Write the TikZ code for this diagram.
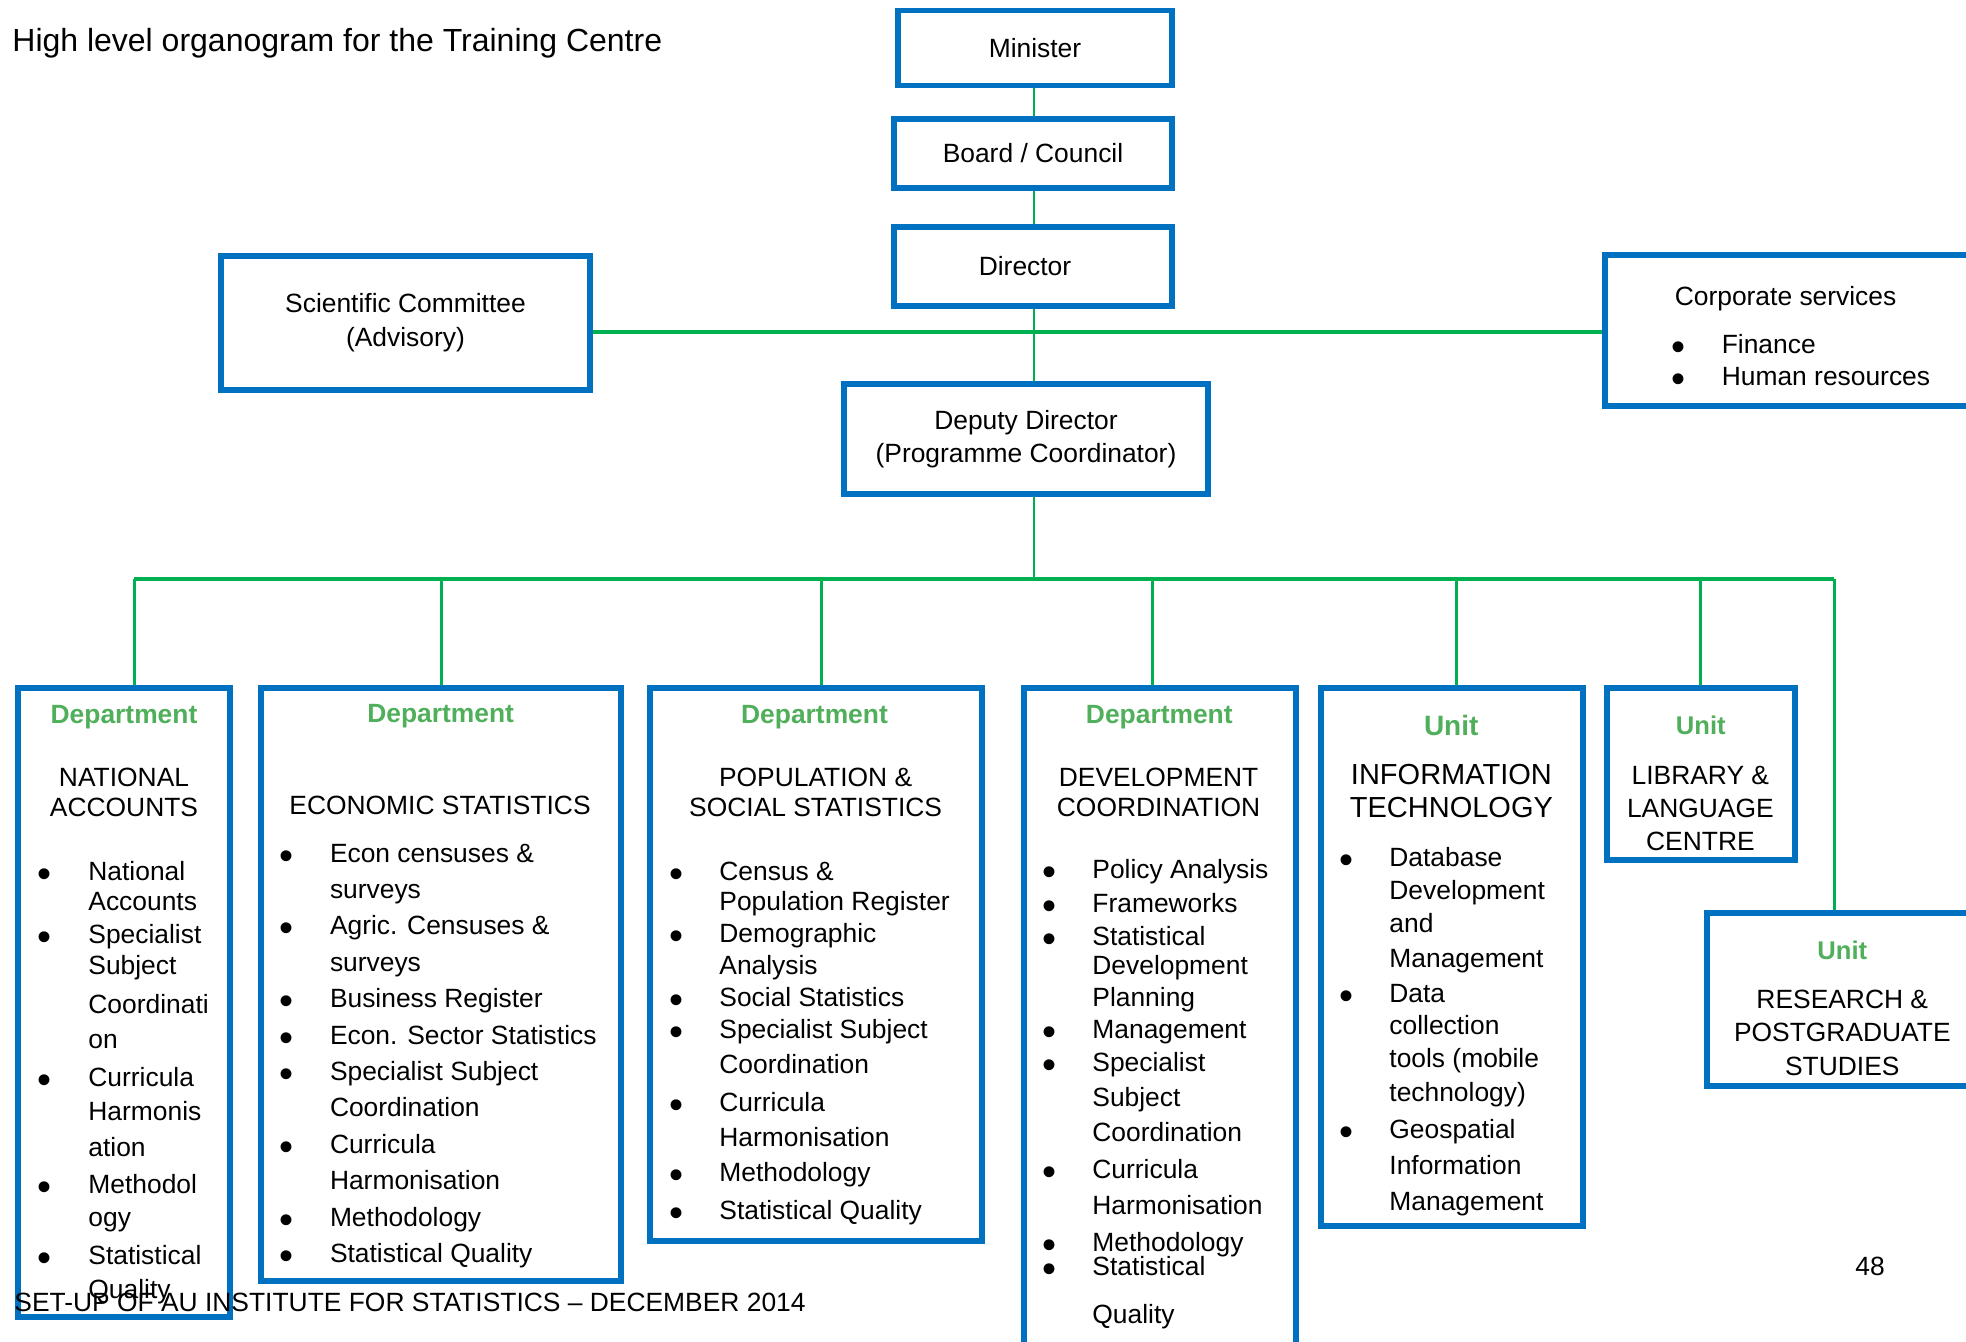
\documentclass[tikz,border=0pt]{standalone}
\usepackage{fontspec}
\setmainfont{Liberation Sans}
\usepackage{xcolor}
\usetikzlibrary{positioning, fit}

\definecolor{orgblue}{RGB}{0,112,192}
\definecolor{orggreen}{RGB}{0,176,80}
\definecolor{headgreen}{RGB}{80,175,90}

% large list bullet
\newcommand{\orgdot}{\hspace*{1.8pt}\makebox[0pt]{%
  \raisebox{-3.5pt}{\fontsize{20}{20}\selectfont\textbullet}}}
% bullet list: #1 = line spacing, #2 = rows
\newcommand{\orglist}[2]{%
  \fontsize{13.2}{#1}\selectfont
  \begin{tabular}[t]{@{}p{23.5pt}@{}l@{}}#2\end{tabular}}
% centred heading: [#1] = size, #2 = line spacing, #3 = lines
\newcommand{\orghead}[3][13.2]{%
  \fontsize{#1}{#2}\selectfont
  \begin{tabular}[t]{@{}c@{}}#3\end{tabular}}

\begin{document}
\begin{tikzpicture}[
  x=0.5pt, y=-0.5pt,
  orgbox/.style={draw=orgblue, line width=2.6pt, inner sep=0pt},
  topbox/.style={orgbox, align=center,
                 font=\fontsize{13.2}{16}\selectfont},
  link/.style={draw=orggreen, line width=1.5pt},
  thinlink/.style={draw=orggreen, line width=1.2pt},
  buslink/.style={draw=orggreen, line width=1.9pt},
  txt/.style={inner sep=0pt, font=\fontsize{13.2}{16}\selectfont},
  kind/.style={inner sep=0pt, anchor=base, text=headgreen,
               font=\bfseries\fontsize{13.2}{16}\selectfont}
]
\useasboundingbox (0,0) rectangle (1966,1342);
\clip (0,0) rectangle (1966,1342);

%% ── Title ───────────────────────────────────────────────────────────
\node[txt, anchor=base west, font=\fontsize{16}{18}\selectfont]
  (title) at (12,52) {High level organogram for the Training Centre};

%% ── Top of the chart ────────────────────────────────────────────────
\node[topbox, minimum width=137pt, minimum height=37.75pt]
  (minister) at (1035,48) {Minister};
\node[topbox, minimum width=139pt, minimum height=34.5pt]
  (board) at (1033,153.5) {Board / Council};
\node[topbox, minimum width=139pt, minimum height=39.5pt]
  (director) at (1033,266.5) {\hspace*{-8pt}Director};
\node[topbox, minimum width=184.5pt, minimum height=67pt,
  font=\fontsize{13.2}{17}\selectfont]
  (sci) at (405.5,323) {Scientific Committee\\(Advisory)};
\node[topbox, minimum width=182pt, minimum height=55pt,
  font=\fontsize{13.2}{16.25}\selectfont]
  (deputy) at (1026,439) {Deputy Director\\(Programme Coordinator)};

\node[orgbox, fit={(1605,255) (1985,406)}] (corp) {};
\node[txt, anchor=base west] (corp-txt) at (1674.4,306) {\orglist{16pt}{%
  \multicolumn{2}{@{}l@{}}{Corporate services}\\[8pt]
  \orgdot & Finance\\
  \orgdot & Human resources}};

%% ── Departments and units ───────────────────────────────────────────
\node[orgbox, fit={(18,688) (230,1317)}]     (natacc) {};
\node[orgbox, fit={(261,688) (621,1281)}]    (econ) {};
\node[orgbox, fit={(650,688) (982,1241)}]    (pop) {};
\node[orgbox, fit={(1024,688) (1296,1370)}]  (dev) {};
\node[orgbox, fit={(1321,688) (1583,1226)}]  (it) {};
\node[orgbox, fit={(1607,688) (1795,860)}]   (lib) {};
\node[orgbox, fit={(1707,913) (1990,1086)}]  (res) {};

% national accounts
\node[kind] (natacc-kind) at (124,723.5) {Department};
\node[txt, anchor=base] (natacc-name) at (124,786)
  {\orghead{15pt}{NATIONAL\\ACCOUNTS}};
\node[txt, anchor=base west] (natacc-list) at (41,880) {\orglist{15pt}{%
  \orgdot & National\\
          & Accounts\\[1.5pt]
  \orgdot & Specialist\\[0.6pt]
          & Subject\\[4.5pt]
          & Coordinati\\[2.7pt]
          & on\\[4pt]
  \orgdot & Curricula\\[1.8pt]
          & Harmonis\\[3pt]
          & ation\\[3.8pt]
  \orgdot & Methodol\\[1.2pt]
          & ogy\\[4.3pt]
  \orgdot & Statistical\\[1.7pt]
          & Quality}};

% economic statistics
\node[kind] (econ-kind) at (440.7,722) {Department};
\node[txt, anchor=base] (econ-name) at (440,814.5)
  {\orghead{15pt}{ECONOMIC STATISTICS}};
\node[txt, anchor=base west] (econ-list) at (282.6,862) {\orglist{18.2pt}{%
  \orgdot & Econ censuses \&\\
          & surveys\\
  \orgdot & Agric. Censuses \&\\
          & surveys\\
  \orgdot & Business Register\\
  \orgdot & Econ. Sector Statistics\\
  \orgdot & Specialist Subject\\
          & Coordination\\
  \orgdot & Curricula\\
          & Harmonisation\\
  \orgdot & Methodology\\
  \orgdot & Statistical Quality}};

% population and social statistics
\node[kind] (pop-kind) at (814.5,723.5) {Department};
\node[txt, anchor=base] (pop-name) at (815.6,786)
  {\orghead{15pt}{POPULATION \&\\SOCIAL STATISTICS}};
\node[txt, anchor=base west] (pop-list) at (672,880) {\orglist{15.5pt}{%
  \orgdot & Census \&\\[-0.5pt]
          & Population Register\\[0.9pt]
  \orgdot & Demographic\\[0.2pt]
          & Analysis\\[0.4pt]
  \orgdot & Social Statistics\\[0.8pt]
  \orgdot & Specialist Subject\\[1.8pt]
          & Coordination\\[3.5pt]
  \orgdot & Curricula\\[1.9pt]
          & Harmonisation\\[2.1pt]
  \orgdot & Methodology\\[3.5pt]
  \orgdot & Statistical Quality}};

% development coordination
\node[kind] (dev-kind) at (1159.3,723.5) {Department};
\node[txt, anchor=base] (dev-name) at (1158.6,786)
  {\orghead{15pt}{DEVELOPMENT\\COORDINATION}};
\node[txt, anchor=base west] (dev-list) at (1045,878.4) {\orglist{16pt}{%
  \orgdot & Policy Analysis\\[1pt]
  \orgdot & Frameworks\\[0.4pt]
  \orgdot & Statistical\\[-1.2pt]
          & Development\\[-0.3pt]
          & Planning\\[0.3pt]
  \orgdot & Management\\[0.3pt]
  \orgdot & Specialist\\[1.4pt]
          & Subject\\[1.8pt]
          & Coordination\\[2.5pt]
  \orgdot & Curricula\\[1.6pt]
          & Harmonisation\\[2.5pt]
  \orgdot & Methodology\\[-3.6pt]
  \orgdot & Statistical\\[7.7pt]
          & Quality}};

% information technology
\node[kind, font=\bfseries\fontsize{14}{16}\selectfont]
  (it-kind) at (1451.2,735) {Unit};
\node[txt, anchor=base] (it-name) at (1451.4,784.4)
  {\orghead[14.5]{16.5pt}{INFORMATION\\TECHNOLOGY}};
\node[txt, anchor=base west] (it-list) at (1342,866.6) {\orglist{17pt}{%
  \orgdot & Database\\[-0.8pt]
          & Development\\[-0.1pt]
          & and\\[0.4pt]
          & Management\\[0.2pt]
  \orgdot & Data\\[-1pt]
          & collection\\[-0.2pt]
          & tools (mobile\\
          & technology)\\[1.5pt]
  \orgdot & Geospatial\\[0.8pt]
          & Information\\[1pt]
          & Management}};

% library and language centre
\node[kind, font=\bfseries\fontsize{12.8}{16}\selectfont]
  (lib-kind) at (1700.8,734) {Unit};
\node[txt, anchor=base] (lib-name) at (1700.4,784)
  {\orghead{16.5pt}{LIBRARY \&\\LANGUAGE\\CENTRE}};

% research and postgraduate studies
\node[kind, font=\bfseries\fontsize{12.8}{16}\selectfont]
  (res-kind) at (1842.3,959) {Unit};
\node[txt, anchor=base] (res-name) at (1842.3,1008)
  {\orghead{16.8pt}{RESEARCH \&\\POSTGRADUATE\\STUDIES}};

%% ── Connectors ──────────────────────────────────────────────────────
\coordinate (trunk) at (1034,579);
\coordinate (advice) at (1034,332);

\draw[thinlink] (minister.south -| trunk) -- (board.north -| trunk);
\draw[thinlink] (board.south -| trunk) -- (director.north -| trunk);
\draw[buslink] (sci.east |- advice) -- (corp.west |- advice);
\draw[thinlink] (director.south -| trunk) -- (deputy.north -| trunk);
\draw[thinlink] (deputy.south -| trunk) -- (trunk);

\foreach \b/\x in {natacc/134, econ/441, pop/821, dev/1152,
                   it/1456, lib/1700, res/1834}
  \coordinate (\b-drop) at (\x,579);
\draw[buslink] (natacc-drop) -- (res-drop);
\foreach \b in {natacc, econ, pop, dev, it, lib, res}
  \draw[link] (\b-drop) -- (\b-drop |- \b.north);

%% ── Page footer ─────────────────────────────────────────────────────
\node[txt, anchor=base west] (footer) at (14,1311)
  {SET-UP OF AU INSTITUTE FOR STATISTICS \textendash{} DECEMBER 2014};
\node[txt, anchor=base west] (page) at (1855,1275) {48};

\end{tikzpicture}
\end{document}
